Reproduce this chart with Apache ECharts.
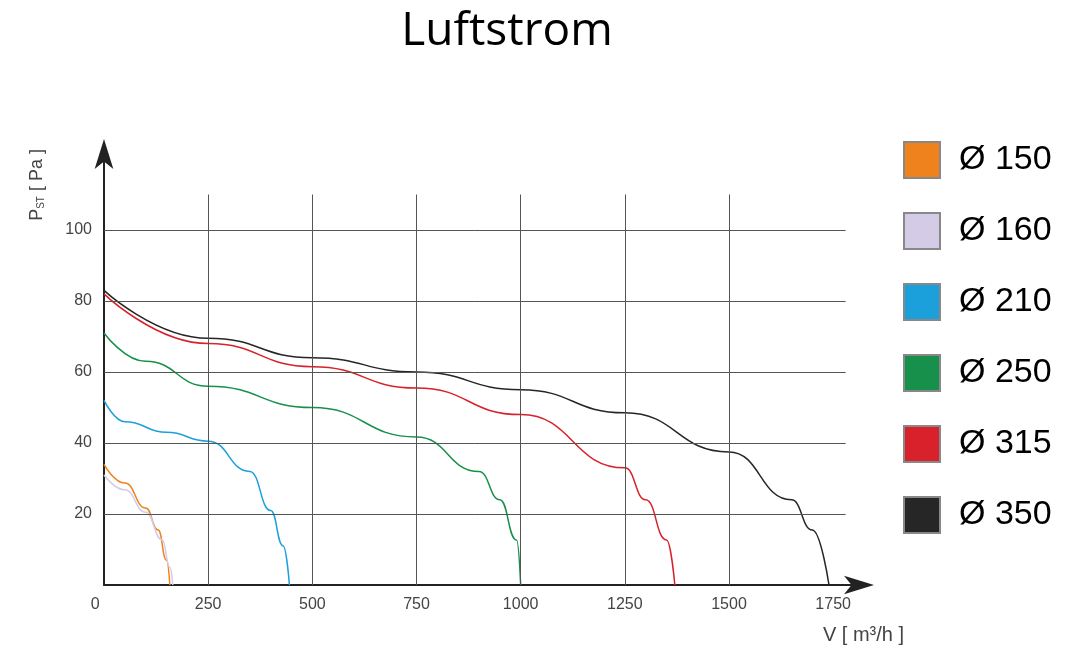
<!DOCTYPE html>
<html><head><meta charset="utf-8">
<script src="https://cdn.jsdelivr.net/npm/echarts@6/dist/echarts.min.js"></script>
<style>html,body{margin:0;background:#fff}#c{width:1080px;height:652px}</style>
</head><body><div id="c"></div>
<script>
const names = ['Ø 150','Ø 160','Ø 210','Ø 250','Ø 315','Ø 350'];
const colors = ['#f0821e','#d4cbe6','#1ca0dc','#16904a','#d8212a','#262626'];
const d150 = [[0,34],[50,28.7],[100,21.7],[130,15.5],[150,7],[158,0]];
const d160 = [[0,31],[50,26.8],[100,20.5],[140,12.7],[158,5],[165,0]];
const d210 = [[0,52],[50,46],[150,43],[250,40.5],[350,32],[400,21],[430,11],[445,0]];
const d250 = [[0,71],[100,63],[250,56],[500,50],[750,41.7],[900,32],[950,24],[990,12.7],[1000,0]];
const d315 = [[0,82],[250,68],[500,61.5],[750,55.5],[1000,48],[1250,33],[1300,24],[1350,12.7],[1370,0]];
const d350 = [[0,83],[250,69.5],[500,64],[750,60],[1000,55],[1250,48.5],[1500,37.5],[1650,24],[1700,15.5],[1740,0]];
const hGrid = [20,40,60,80,100];
const vGrid = [250,500,750,1000,1250,1500];
const series = [d150,d160,d210,d250,d315,d350].map((d,i)=>({
  name:names[i], type:'line', data:d, smooth:0.5, smoothMonotone:'x', showSymbol:false,
  lineStyle:{color:colors[i],width:1.5}, itemStyle:{color:colors[i],borderColor:'#888',borderWidth:1}
}));
series.unshift({type:'line',data:[],silent:true,markLine:{symbol:'none',silent:true,label:{show:false},
  lineStyle:{color:'#555',width:1,type:'solid'},
  data:hGrid.map(v=>[{coord:[0,v]},{coord:[1780,v]}]).concat(vGrid.map(v=>[{coord:[v,0]},{coord:[v,110]}]))}});
const chart = echarts.init(document.getElementById('c'));
chart.setOption({
  animation:false,
  title:{text:'Luftstrom',left:502,top:4,textAlign:'center',textStyle:{fontSize:46,fontWeight:'normal',color:'#000',fontFamily:'Open Sans'}},
  legend:{data:names,orient:'vertical',left:898,top:136,itemWidth:36,itemHeight:36,itemGap:33,icon:'rect',
    textStyle:{fontSize:34,color:'#000',padding:[0,0,0,14]}},
  grid:{left:104,right:226,top:159,bottom:67},
  xAxis:{type:'value',min:0,max:1800,interval:250,
    axisLine:{lineStyle:{color:'#222',width:2},symbol:['none','arrow'],symbolSize:[14,30],symbolOffset:[0,20]},
    axisTick:{show:false},splitLine:{show:false},
    axisLabel:{color:'#444',fontSize:16,margin:12,formatter:v=>v===0?'0    ':v},
    name:'V [ m³/h ]',nameLocation:'end',nameGap:0,
    nameTextStyle:{color:'#444',fontSize:20,align:'right',verticalAlign:'top',padding:[40,-50,0,0]}},
  yAxis:{type:'value',min:0,max:120,interval:20,
    axisLine:{lineStyle:{color:'#222',width:2},symbol:['none','arrow'],symbolSize:[14,30],symbolOffset:[0,20]},
    axisTick:{show:false},splitLine:{show:false},
    axisLabel:{color:'#444',fontSize:16,margin:12,formatter:v=>(v===0||v===120)?'':v},
    name:'{a|P}{b|ST}{a| [ Pa ]}',nameLocation:'end',nameRotate:90,nameGap:10,
    nameTextStyle:{align:'right',verticalAlign:'bottom',padding:[0,0,58,0],rich:{a:{fontSize:18,color:'#444'},b:{fontSize:10,color:'#444',verticalAlign:'bottom'}}}},
  series:series
});
</script></body></html>
